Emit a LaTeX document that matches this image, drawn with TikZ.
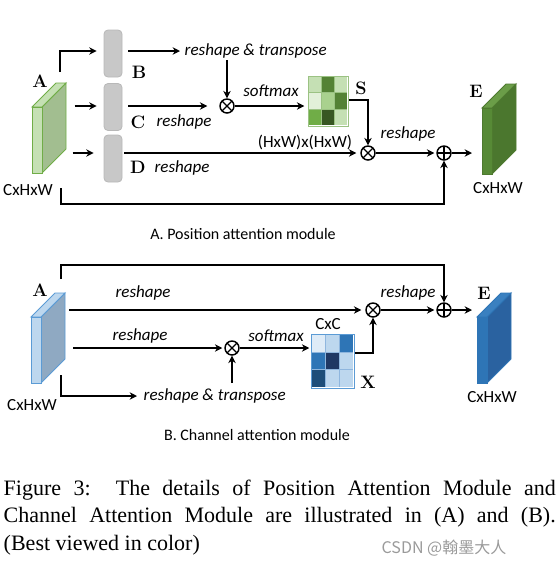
\documentclass[tikz,border=0pt]{standalone}
\usepackage{fontspec}
\newfontfamily\carl{Carlito}
\newfontfamily\tnr{Liberation Serif}
\newfontfamily\cjkf{Noto Sans CJK SC}
\usetikzlibrary{arrows.meta,calc}
\definecolor{boxfill}{HTML}{C8C8C8}
\definecolor{boxedge}{HTML}{B8B8B8}
\definecolor{gAfront}{HTML}{C5E0B4}
\definecolor{gAside}{HTML}{A2BE90}
\definecolor{gAedge}{HTML}{70AD47}
\definecolor{gEfront}{HTML}{578A36}
\definecolor{gEtop}{HTML}{6B9D48}
\definecolor{gEside}{HTML}{4B772E}
\definecolor{gEedge}{HTML}{4E7A2F}
\definecolor{bAfront}{HTML}{BDD7EE}
\definecolor{bAside}{HTML}{8FA9C2}
\definecolor{bAedge}{HTML}{5B9BD5}
\definecolor{bEfront}{HTML}{2E75B6}
\definecolor{bEtop}{HTML}{3A80C0}
\definecolor{bEside}{HTML}{2A62A0}
\definecolor{bEedge}{HTML}{2E75B6}
\definecolor{SA}{HTML}{C5E0B4}
\definecolor{SB}{HTML}{548235}
\definecolor{SC}{HTML}{E2F0D9}
\definecolor{SD}{HTML}{A9D18E}
\definecolor{SE}{HTML}{70AD47}
\definecolor{SF}{HTML}{385723}
\definecolor{sgrid}{HTML}{9BC283}
\definecolor{XA}{HTML}{DEEBF7}
\definecolor{XB}{HTML}{BDD7EE}
\definecolor{XC}{HTML}{2E75B6}
\definecolor{XD}{HTML}{1F3864}
\definecolor{XE}{HTML}{1F4E79}
\definecolor{xgrid}{HTML}{8FB6DE}
\definecolor{wmgray}{HTML}{9A9A9A}
\newcommand\drawblock[6]{%
  \filldraw[draw=#6,fill=#5,line width=0.7pt] (#1+10,#2) -- ++(24,-24) -- ++(0,66) -- ++(-24,24) -- cycle;
  \filldraw[draw=#6,fill=#4,line width=0.7pt] (#1,#2) -- ++(24,-24) -- ++(10,0) -- ++(-24,24) -- cycle;
  \filldraw[draw=#6,fill=#3,line width=0.7pt] (#1,#2) rectangle (#1+10,#2+66);
}
\begin{document}
\begin{tikzpicture}[x=0.75pt,y=-0.75pt,line width=1.1pt,
  arr/.style={-{Stealth[length=5.5pt,width=5.5pt]}},
  lbl/.style={font=\carl\itshape\fontsize{12.75}{14}\selectfont, inner sep=0pt},
  dim/.style={font=\carl\fontsize{12.75}{14}\selectfont, inner sep=0pt},
  letter/.style={font=\bfseries\fontsize{13.5}{14}\selectfont, inner sep=0pt},
  ttl/.style={font=\carl\fontsize{12}{14}\selectfont, inner sep=0pt},
  capline/.style={font=\tnr\fontsize{16.5}{20.6}\selectfont, inner sep=0pt, anchor=base west},
  gbox/.style={draw=boxedge, fill=boxfill, rounded corners=3pt, minimum width=13.5pt, minimum height=35.25pt, inner sep=0pt, line width=0.6pt},
  mult/.style={circle, draw, line width=1.1pt, minimum size=10.5pt, inner sep=0pt,
    path picture={\draw[line width=0.9pt] (path picture bounding box.south west) -- (path picture bounding box.north east) (path picture bounding box.north west) -- (path picture bounding box.south east);}},
  plus/.style={circle, draw, line width=1.1pt, minimum size=10.5pt, inner sep=0pt,
    path picture={\draw[line width=0.9pt] (path picture bounding box.north) -- (path picture bounding box.south) (path picture bounding box.west) -- (path picture bounding box.east);}},
  mat/.style={inner sep=0pt, draw=none}
]
\useasboundingbox (0,0) rectangle (557,565);

% ================= Part A =================
\drawblock{32}{107}{gAfront}{gAfront}{gAside}{gAedge}
\drawblock{482}{108}{gEfront}{gEtop}{gEside}{gEedge}
\node[letter] (labA1) at (40,81) {A};
\node[dim] (dimA1) at (28,190) {CxHxW};
\node[letter] (labE1) at (476,91) {E};
\node[dim] (dimE1) at (498,188) {CxHxW};

\node[gbox] (B) at (113,53.5) {};
\node[gbox] (C) at (113,107) {};
\node[gbox] (D) at (113,158.5) {};
\node[letter] (labB) at (139,72) {B};
\node[letter] (labC) at (138,122) {C};
\node[letter] (labD) at (138,167) {D};

\coordinate (Atop) at (60,72);
\coordinate (Abot) at (61,188);
\coordinate (EAin) at (482,153);

\node[lbl, anchor=west] (rtA) at (184,51) {reshape \& transpose};
\node[mult] (m1) at (227,106) {};
\node[mat, minimum width=29.25pt, minimum height=36.75pt] (Smat) at (328.5,101.5) {};
\node[mult] (m2) at (368,153) {};
\node[plus] (p1) at (444,153) {};

\foreach \clr [count=\n from 0] in {SA,SB,SA,SC,SD,SB,SE,SF,SA} {
  \pgfmathtruncatemacro\srow{int(\n/3)}
  \pgfmathtruncatemacro\scol{mod(\n,3)}
  \fill[\clr] ($(Smat.north west)+(13*\scol,16.333*\srow)$) rectangle ++(13,16.333);
}
\foreach \i in {1,2} {
  \draw[sgrid, line width=0.6pt] ($(Smat.north west)+(13*\i,0)$) -- ++(0,49);
  \draw[sgrid, line width=0.6pt] ($(Smat.north west)+(0,16.333*\i)$) -- ++(39,0);
}
\draw[sgrid, line width=0.6pt] (Smat.north west) rectangle (Smat.south east);
\node[letter] (labS) at (361,88) {S};

\draw[arr] (Atop) |- ($(B.west)+(-7,-2.5)$);
\draw[arr] ($(C.west)+(-29,-1)$) -- ($(C.west)+(-7,-1)$);
\draw[arr] ($(D.west)+(-31,-5.5)$) -- ($(D.west)+(-10,-5.5)$);
\draw[arr, shorten >=3pt] ($(B.east)+(6,-2.5)$) -- (rtA.west);
\draw[arr, shorten <=1pt] (m1 |- rtA.south) -- (m1.north);
\draw[arr, shorten >=9pt] ($(C.east)+(6,-1)$) -- (m1.west);
\draw[arr, shorten >=3pt] (m1.east) -- (Smat.west |- m1);
\node[lbl] (smA) at (271,91) {softmax};
\draw[arr] ($(Smat.east)+(0,-1.5)$) -| (m2.north);
\draw[arr, shorten >=3pt] ($(D.east)+(2,-5.5)$) -- (m2.west);
\node[dim] (hwA) at (305,142) {(HxW)x(HxW)};
\node[lbl] (rsD) at (182,168) {reshape};
\node[lbl] (rsC) at (184,122) {reshape};
\draw[arr, shorten >=1.5pt] (m2.east) -- (p1.west);
\node[lbl] (rsA3) at (408,134) {reshape};
\draw[arr, shorten >=7.5pt] (p1.east) -- (EAin);
\draw[arr] (Abot) -- ++(0,16) -| (p1.south);

\node[ttl] (titA) at (243,234) {A. Position attention module};

% ================= Part B =================
\drawblock{31}{317}{bAfront}{bAfront}{bAside}{bAedge}
\drawblock{477}{317}{bEfront}{bEtop}{bEside}{bEedge}
\node[letter] (labA2) at (40,290) {A};
\node[dim] (dimA2) at (32,405) {CxHxW};
\node[letter] (labE2) at (484,293) {E};
\node[dim] (dimE2) at (492,397) {CxHxW};

\coordinate (BAtop) at (61,279);
\coordinate (BAr1) at (69,310);
\coordinate (BAr2) at (73,348);
\coordinate (BAbot) at (61,375);
\coordinate (EBin) at (477,310);

\node[mult] (m3) at (373,310) {};
\node[mult] (m4) at (232,348) {};
\node[plus] (p2) at (444,310) {};
\node[lbl, anchor=west] (rtB) at (143,396) {reshape \& transpose};
\node[mat, minimum width=31.5pt, minimum height=39.75pt] (Xmat) at (333,361.5) {};

\foreach \clr [count=\n from 0] in {XA,XB,XC,XC,XD,XB,XE,XB,XB} {
  \pgfmathtruncatemacro\srow{int(\n/3)}
  \pgfmathtruncatemacro\scol{mod(\n,3)}
  \fill[\clr] ($(Xmat.north west)+(14*\scol,17.667*\srow)$) rectangle ++(14,17.667);
}
\foreach \i in {1,2} {
  \draw[xgrid, line width=0.6pt] ($(Xmat.north west)+(14*\i,0)$) -- ++(0,53);
  \draw[xgrid, line width=0.6pt] ($(Xmat.north west)+(0,17.667*\i)$) -- ++(42,0);
}
\draw[bAedge, line width=0.6pt] (Xmat.north west) rectangle (Xmat.south east);
\node[dim] (cxc) at (328,324) {CxC};
\node[letter] (labX) at (368,382) {X};

\draw[arr] (BAtop) -- ++(0,-14) -| (p2.north);
\draw[arr, shorten >=3pt] (BAr1) -- (m3.west);
\node[lbl] (rsB1) at (143,293) {reshape};
\draw[arr, shorten >=1.5pt] (BAr2) -- (m4.west);
\node[lbl] (rsB2) at (140,336) {reshape};
\draw[arr, shorten >=4.5pt] (BAbot) |- (rtB.west);
\draw[arr] ($(m4 |- rtB.north)+(0,-5)$) -- (m4.south);
\draw[arr, shorten >=1.5pt] (m4.east) -- (Xmat.west |- m4);
\node[lbl] (smB) at (276,336) {softmax};
\draw[arr] ($(Xmat.east)+(0,-8.5)$) -| (m3.south);
\draw[arr, shorten >=1.5pt] (m3.east) -- (p2.west);
\node[lbl] (rsB3) at (408,293) {reshape};
\draw[arr, shorten >=3.75pt] (p2.east) -- (EBin);

\node[ttl] (titB) at (257,435) {B. Channel attention module};

% ================= Caption =================
\node[capline] (cap1) at (3,495) {\makebox[414pt][s]{Figure 3:\hspace{3pt} The details of Position Attention Module and}};
\node[capline] (cap2) at (3,522.5) {\makebox[414pt][s]{Channel Attention Module are illustrated in (A) and (B).}};
\node[capline] (cap3) at (3,550) {(Best viewed in color)};
\node[font=\cjkf\fontsize{12}{14}\selectfont, text=wmgray, inner sep=0pt] (wm) at (444,548) {CSDN @翰墨大人};
\end{tikzpicture}
\end{document}
